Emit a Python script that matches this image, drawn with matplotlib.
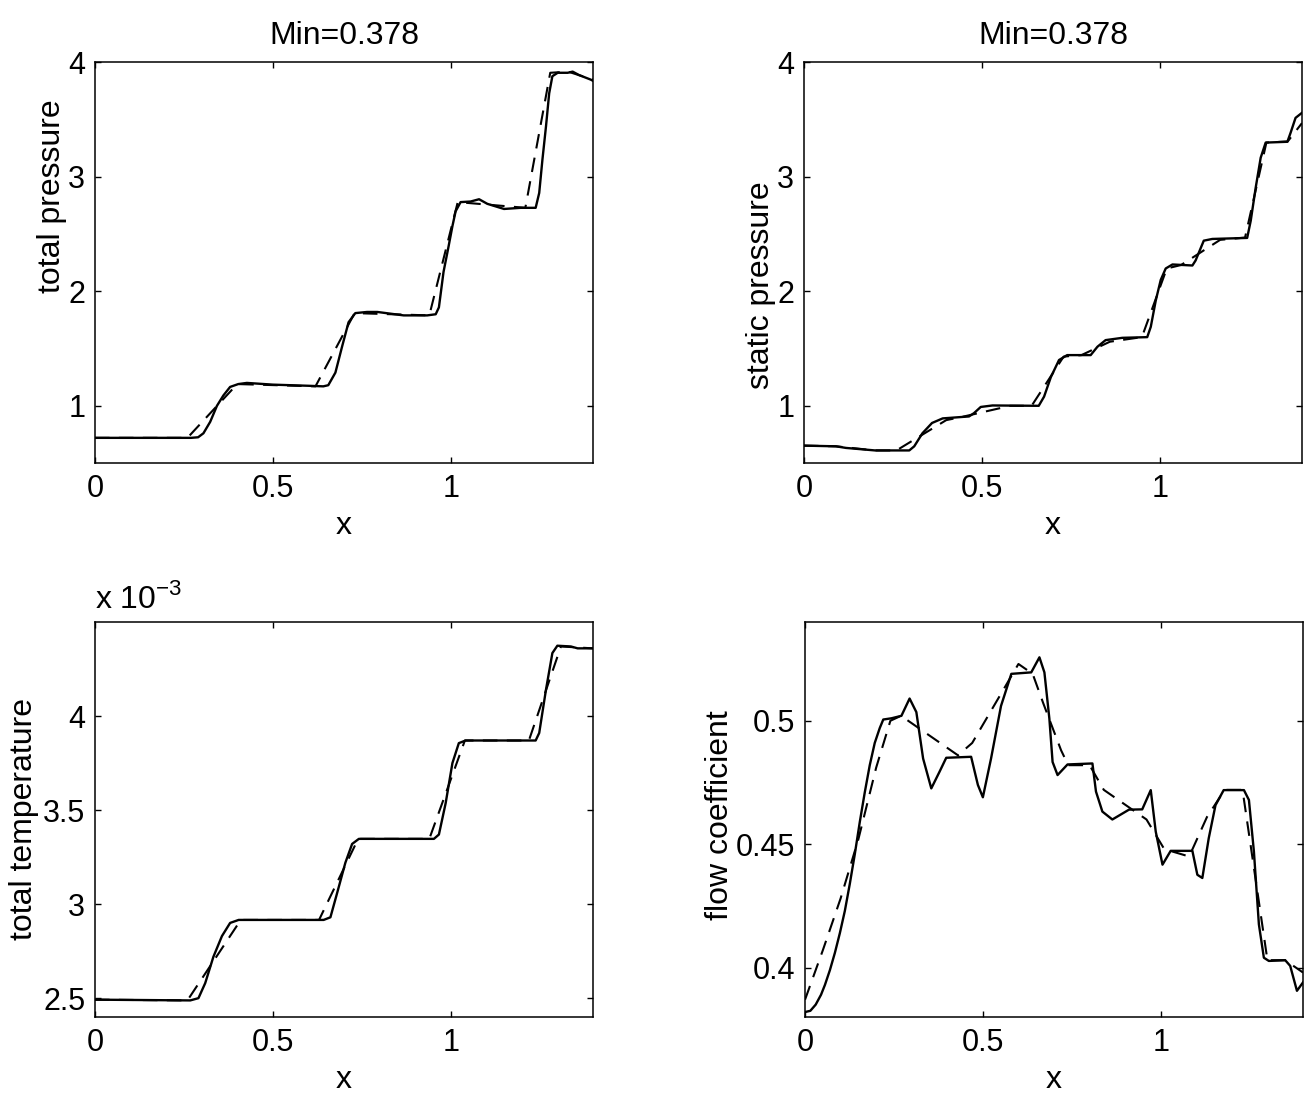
#
#  Four panels: total pressure, static pressure, total temperature and
#  flow coefficient along x. Solid = computed, dashed = reference.
#
import matplotlib
matplotlib.use('Agg')
import matplotlib.pyplot as plt
from matplotlib.ticker import FuncFormatter

plt.rcParams['font.family'] = ['Liberation Sans', 'DejaVu Sans']
plt.rcParams['mathtext.fontset'] = 'custom'
plt.rcParams['mathtext.rm'] = 'Liberation Sans'
plt.rcParams['font.size'] = 23

# total pressure (solid / dashed)
tp_x = [0.00, 0.10, 0.20, 0.27, 0.29, 0.305, 0.324, 0.343, 0.361, 0.380, 0.403, 0.427,
        0.50, 0.60, 0.642, 0.656, 0.676, 0.695, 0.713, 0.732, 0.765, 0.794, 0.868, 0.934,
        0.958, 0.967, 0.980, 0.994, 1.005, 1.014, 1.028, 1.056, 1.080, 1.103, 1.150, 1.197,
        1.239, 1.249, 1.258, 1.268, 1.277, 1.286, 1.301, 1.329, 1.343, 1.361, 1.394, 1.40]
tp_y = [0.72, 0.72, 0.72, 0.72, 0.725, 0.76, 0.86, 1.00, 1.09, 1.165, 1.19, 1.20,
        1.185, 1.175, 1.17, 1.18, 1.29, 1.52, 1.73, 1.81, 1.82, 1.82, 1.79, 1.79,
        1.80, 1.86, 2.17, 2.39, 2.57, 2.70, 2.78, 2.785, 2.805, 2.765, 2.72, 2.73,
        2.73, 2.86, 3.15, 3.44, 3.73, 3.88, 3.91, 3.91, 3.92, 3.89, 3.85, 3.84]
tpd_x = [0.00, 0.26, 0.40, 0.62, 0.73, 0.94, 1.02, 1.21, 1.28, 1.33, 1.40]
tpd_y = [0.72, 0.72, 1.19, 1.17, 1.81, 1.79, 2.78, 2.73, 3.91, 3.92, 3.85]

# static pressure
sp_x = [0.0, 0.09, 0.118, 0.20, 0.296, 0.31, 0.333, 0.36, 0.39, 0.464, 0.478, 0.497,
        0.53, 0.66, 0.675, 0.694, 0.717, 0.74, 0.806, 0.825, 0.848, 0.895, 0.965, 0.975,
        0.989, 1.003, 1.017, 1.036, 1.092, 1.101, 1.124, 1.148, 1.246, 1.256, 1.27, 1.284,
        1.298, 1.359, 1.368, 1.382, 1.40]
sp_y = [0.652, 0.646, 0.632, 0.61, 0.61, 0.646, 0.76, 0.85, 0.89, 0.907, 0.936, 0.99,
        1.003, 1.0, 1.08, 1.25, 1.40, 1.443, 1.443, 1.516, 1.574, 1.594, 1.60, 1.69,
        1.92, 2.10, 2.20, 2.235, 2.226, 2.27, 2.443, 2.458, 2.467, 2.617, 2.907, 3.168,
        3.30, 3.307, 3.385, 3.516, 3.56]
spd_x = [0.0, 0.09, 0.20, 0.26, 0.40, 0.44, 0.58, 0.64, 0.73, 0.78, 0.86, 0.95, 1.02,
         1.06, 1.17, 1.24, 1.30, 1.36, 1.40]
spd_y = [0.652, 0.646, 0.61, 0.61, 0.875, 0.90, 1.0, 1.0, 1.43, 1.443, 1.56, 1.60, 2.20,
         2.23, 2.45, 2.47, 3.30, 3.31, 3.47]

# total temperature, in units of 1e-3
tt_x = [0.0, 0.268, 0.291, 0.31, 0.333, 0.357, 0.38, 0.404, 0.643, 0.662, 0.681, 0.704,
        0.723, 0.742, 0.953, 0.967, 0.986, 1.005, 1.023, 1.042, 1.239, 1.249, 1.268, 1.286,
        1.30, 1.338, 1.357, 1.40]
tt_y = [2.492, 2.488, 2.50, 2.58, 2.72, 2.83, 2.90, 2.916, 2.916, 2.93, 3.06, 3.22,
        3.32, 3.347, 3.347, 3.37, 3.537, 3.75, 3.856, 3.87, 3.87, 3.91, 4.14, 4.335,
        4.374, 4.37, 4.36, 4.36]
ttd_x = [0.0, 0.26, 0.41, 0.63, 0.74, 0.94, 1.04, 1.22, 1.31, 1.40]
ttd_y = [2.492, 2.488, 2.916, 2.916, 3.347, 3.347, 3.87, 3.87, 4.37, 4.36]

# flow coefficient
fc_x = [0.0, 0.015, 0.030, 0.045, 0.056, 0.070, 0.084, 0.098, 0.112, 0.126, 0.14, 0.154,
        0.168, 0.182, 0.196, 0.21, 0.22, 0.243, 0.271, 0.294,
        0.313, 0.332, 0.355, 0.378, 0.397, 0.467, 0.486, 0.50, 0.523, 0.551, 0.58, 0.636,
        0.659, 0.673, 0.687, 0.696, 0.71, 0.738, 0.808, 0.818, 0.836, 0.864, 0.911, 0.948,
        0.972, 0.986, 1.005, 1.028, 1.089, 1.103, 1.117, 1.135, 1.154, 1.177, 1.234, 1.248,
        1.262, 1.276, 1.29, 1.304, 1.35, 1.364, 1.383, 1.40]
fc_y = [0.382, 0.3825, 0.385, 0.389, 0.393, 0.399, 0.406, 0.414, 0.423, 0.434, 0.446, 0.459,
        0.471, 0.482, 0.491, 0.497, 0.5005, 0.501, 0.502, 0.509,
        0.5035, 0.4847, 0.4726, 0.4793, 0.485, 0.4854, 0.474, 0.469, 0.4847, 0.506, 0.519, 0.5196,
        0.5257, 0.5196, 0.5008, 0.4833, 0.478, 0.4823, 0.4827, 0.4713, 0.4632, 0.46, 0.464, 0.4641,
        0.4719, 0.4551, 0.4417, 0.4473, 0.4473, 0.4376, 0.4363, 0.4524, 0.4658, 0.4719, 0.4719, 0.4679,
        0.447, 0.4175, 0.404, 0.4027, 0.403, 0.4007, 0.3906, 0.394]
fcd_x = [0.0, 0.05, 0.10, 0.15, 0.20, 0.24, 0.27, 0.32, 0.43, 0.47, 0.60, 0.64, 0.67, 0.72,
         0.74, 0.80, 0.84, 0.90, 0.96, 1.01, 1.08, 1.13, 1.18, 1.23, 1.30, 1.35, 1.40]
fcd_y = [0.387, 0.407, 0.428, 0.452, 0.481, 0.500, 0.502, 0.497, 0.486, 0.491, 0.523, 0.519,
         0.507, 0.488, 0.482, 0.482, 0.472, 0.466, 0.460, 0.448, 0.445, 0.461, 0.472, 0.472,
         0.403, 0.403, 0.398]

x_ticks = [0, 0.5, 1]
fmt = FuncFormatter(lambda v, p: '%g' % v)

def setup_axes(ax, ylabel, yticks, ylim, label_y=0.5, lpad=1):
    ax.set_xlim(0, 1.4)
    ax.set_ylim(*ylim)
    ax.set_xticks(x_ticks)
    ax.set_yticks(yticks)
    ax.xaxis.set_major_formatter(fmt)
    ax.yaxis.set_major_formatter(fmt)
    ax.tick_params(direction='in', top=True, right=True, length=4.5, width=1,
                   labelsize=22)
    ax.tick_params(axis='x', pad=8)
    ax.tick_params(axis='y', pad=7)
    for s in ax.spines.values():
        s.set_linewidth(1.1)
    ax.set_xlabel('x', labelpad=5)
    ax.set_ylabel(ylabel, labelpad=lpad)
    ax.yaxis.label.set_y(label_y)

def draw(ax, xs, ys, xd, yd):
    ax.plot(xs, ys, 'k-', lw=1.7)
    ax.plot(xd, yd, 'k--', lw=1.5, dashes=(7, 4.5))

fig = plt.figure(figsize=(13.06, 10.98), dpi=100)
w = 0.3813
ax1 = fig.add_axes([0.0727, 0.5783, w, 0.3648])
ax2 = fig.add_axes([0.6156, 0.5783, w, 0.3648])
ax3 = fig.add_axes([0.0727, 0.0738, w, 0.3597])
ax4 = fig.add_axes([0.6164, 0.0738, w, 0.3597])

draw(ax1, tp_x, tp_y, tpd_x, tpd_y)
setup_axes(ax1, 'total pressure', [1, 2, 3, 4], (0.5, 4), label_y=0.665)
ax1.set_title('Min=0.378', fontsize=23, pad=13)

draw(ax2, sp_x, sp_y, spd_x, spd_y)
setup_axes(ax2, 'static pressure', [1, 2, 3, 4], (0.5, 4), label_y=0.445)
ax2.set_title('Min=0.378', fontsize=23, pad=13)

draw(ax3, tt_x, tt_y, ttd_x, ttd_y)
setup_axes(ax3, 'total temperature', [2.5, 3, 3.5, 4], (2.4, 4.5), lpad=3)
ax3.text(0.0, 1.035, r'x 10$^{\mathregular{-3}}$', transform=ax3.transAxes,
         ha='left', va='baseline', fontsize=23)

draw(ax4, fc_x, fc_y, fcd_x, fcd_y)
setup_axes(ax4, 'flow coefficient', [0.4, 0.45, 0.5], (0.38, 0.54), label_y=0.51)

plt.savefig('out.png', dpi=100)
